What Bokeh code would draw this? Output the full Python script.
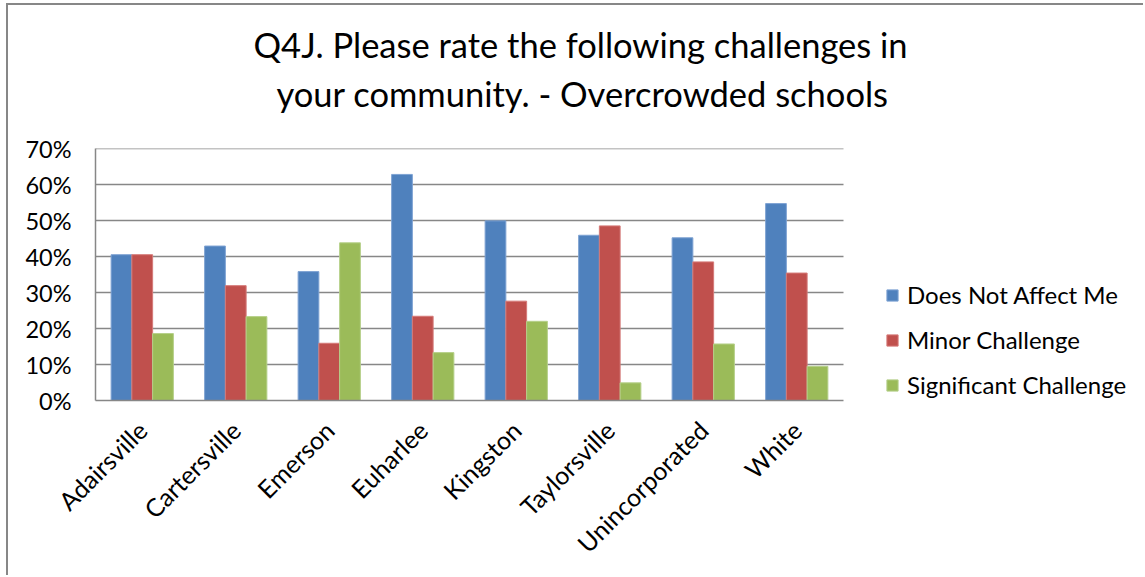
import math
from bokeh.plotting import figure
from bokeh.models import (ColumnDataSource, Range1d, Legend, LegendItem, FixedTicker,
                          NumeralTickFormatter, Title)
from bokeh.transform import dodge
from bokeh.embed import file_html
from bokeh.resources import INLINE

categories = ["Adairsville", "Cartersville", "Emerson", "Euharlee",
              "Kingston", "Taylorsville", "Unincorporated", "White"]
does_not_affect = [0.405, 0.429, 0.358, 0.628, 0.499, 0.459, 0.452, 0.547]
minor_challenge = [0.405, 0.319, 0.159, 0.234, 0.276, 0.485, 0.385, 0.354]
significant_challenge = [0.186, 0.233, 0.438, 0.133, 0.220, 0.049, 0.157, 0.095]
series_names = ["Does Not Affect Me", "Minor Challenge", "Significant Challenge"]
y_ticks = [0.0, 0.1, 0.2, 0.3, 0.4, 0.5, 0.6, 0.7]
colors = ["#4F81BD", "#C0504D", "#9BBB59"]
edge_colors = ["#7FA3D3", "#D57A78", "#B6D08A"]
title_lines = ["Q4J. Please rate the following challenges in",
               "your community. - Overcrowded schools"]

FONT = "Lato"
GRID = "#878787"

n = len(categories)
xs = [i + 0.5 for i in range(n)]
source = ColumnDataSource(dict(x=xs, cat=categories, a=does_not_affect,
                               b=minor_challenge, c=significant_challenge))

OX, OY = 8, 5          # offset of the chart box on the page (border drawn by CSS)
W, H = 1145 - OX, 577 - OY
FL, FR, FT, FB = 95, 843, 148, 400   # plot-area edges on the page
frame_w = W - (FL - OX)               # frame runs to the right edge (legend lives inside)
unit = (FR - FL) / n
p = figure(width=W, height=H, x_range=Range1d(0, frame_w / unit),
           y_range=Range1d(0, 0.70001), output_backend="svg", toolbar_location=None,
           min_border_left=FL - OX, min_border_right=0,
           min_border_top=FT - OY, min_border_bottom=H - (FB - OY))
p.styles = {"border-left": "2px solid #878787", "border-top": "2px solid #878787",
            "margin-left": "6px", "margin-top": "3px"}
p.outline_line_color = None
p.background_fill_color = "white"
p.border_fill_color = "white"
p.xgrid.visible = False
p.ygrid.visible = False

# horizontal gridlines limited to the category area
gy = y_ticks[1:]
p.segment(x0=[0] * len(gy), x1=[n] * len(gy), y0=gy, y1=gy,
          line_color=GRID, line_width=1.5)

bw = 0.222
renderers = []
for col, off, color, edge in zip(["a", "b", "c"], [-bw, 0, bw], colors, edge_colors):
    r = p.vbar(x=dodge("x", off), top=col, width=bw, source=source,
               fill_color=color, line_color=edge, line_width=1)
    renderers.append(r)

# axes
p.yaxis.ticker = FixedTicker(ticks=y_ticks)
p.yaxis.formatter = NumeralTickFormatter(format="0%")
p.yaxis.axis_line_color = GRID
p.yaxis.axis_line_width = 1.5
p.yaxis.major_tick_line_color = None
p.yaxis.minor_tick_line_color = None
p.yaxis.major_label_text_font = FONT
p.yaxis.major_label_text_font_size = "23.5px"
p.yaxis.major_label_text_color = "black"
p.yaxis.major_label_standoff = 18

p.xaxis.ticker = FixedTicker(ticks=xs)
p.xaxis.major_label_overrides = {x: c for x, c in zip(xs, categories)}
p.xaxis.bounds = (0, n)
p.xaxis.axis_line_color = GRID
p.xaxis.axis_line_width = 1.5
p.xaxis.major_tick_line_color = None
p.xaxis.minor_tick_line_color = None
p.xaxis.major_label_orientation = math.pi / 4
p.xaxis.major_label_text_font = FONT
p.xaxis.major_label_text_font_size = "25px"
p.xaxis.major_label_text_color = "black"
p.xaxis.major_label_standoff = 19

legend = Legend(items=[LegendItem(label=s, renderers=[r]) for s, r in zip(series_names, renderers)],
                location=(887 - FL - 2, 1), orientation="vertical",
                glyph_width=14, glyph_height=14, label_standoff=8,
                label_height=20, spacing=16, padding=0, margin=0,
                label_text_font=FONT, label_text_font_size="24px",
                label_text_color="black", border_line_color=None,
                background_fill_alpha=0)
p.add_layout(legend, "center")

# title: two lines, line 2 nearest to the plot
p.add_layout(Title(text=title_lines[1], align="left", offset=181, text_font=FONT,
                   text_font_size="34.5px", text_font_style="normal", text_color="black",
                   standoff=68.6), "above")
p.add_layout(Title(text=title_lines[0], align="left", offset=158, text_font=FONT,
                   text_font_size="34.5px", text_font_style="normal", text_color="black",
                   standoff=-56.2), "above")

open("out.html", "w").write(file_html(p, INLINE))
